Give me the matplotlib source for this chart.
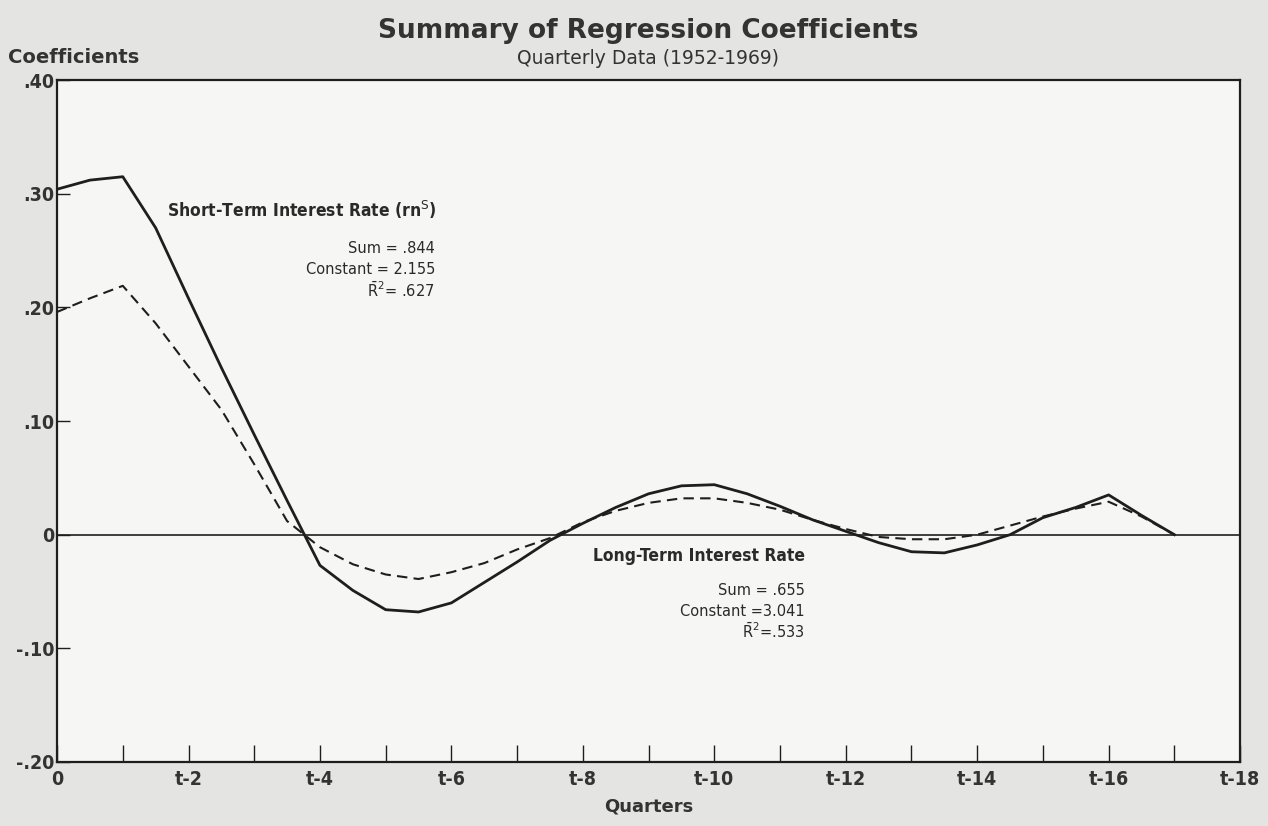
import matplotlib
matplotlib.use("Agg")
import matplotlib.pyplot as plt
from matplotlib import font_manager

# quarters back (0 = current quarter), read every half quarter
quarters = [0, 0.5, 1, 1.5, 2, 2.5, 3, 3.5, 4, 4.5, 5, 5.5, 6, 6.5, 7, 7.5, 8, 8.5,
            9, 9.5, 10, 10.5, 11, 11.5, 12, 12.5, 13, 13.5, 14, 14.5, 15, 15.5, 16, 16.5, 17]

# short-term interest rate coefficients (solid)
short_term = [0.304, 0.312, 0.315, 0.270, 0.208, 0.147, 0.088, 0.030, -0.027, -0.049,
              -0.066, -0.068, -0.060, -0.042, -0.024, -0.005, 0.010, 0.024, 0.036, 0.043,
              0.044, 0.036, 0.025, 0.013, 0.003, -0.007, -0.015, -0.016, -0.009, 0.000,
              0.015, 0.024, 0.035, 0.017, 0.000]

# long-term interest rate coefficients (dashed)
long_term = [0.196, 0.208, 0.219, 0.186, 0.148, 0.110, 0.062, 0.012, -0.011, -0.026,
             -0.035, -0.039, -0.033, -0.025, -0.013, -0.003, 0.011, 0.021, 0.028, 0.032,
             0.032, 0.028, 0.022, 0.013, 0.005, -0.002, -0.004, -0.004, 0.000, 0.008,
             0.016, 0.023, 0.029, 0.016, 0.000]

y_ticks = [0.40, 0.30, 0.20, 0.10, 0.0, -0.10, -0.20]
y_labels = [".40", ".30", ".20", ".10", "0", "-.10", "-.20"]
x_ticks = list(range(0, 19, 2))
x_labels = ["0"] + [f"t-{q}" for q in range(2, 19, 2)]

ink = "#1e1e1e"
text_col = "#333333"
note_col = "#2a2a2a"
paper = "#e4e4e2"

# pick a condensed face if one is installed
installed = {f.name for f in font_manager.fontManager.ttflist}
narrow = [n for n in ("Liberation Sans Narrow", "DejaVu Sans Condensed") if n in installed]
narrow = narrow + ["DejaVu Sans"]

fig = plt.figure(figsize=(12.68, 8.26), dpi=100, facecolor=paper)
ax = fig.add_axes([0.045, 0.0775, 0.933, 0.8255])
ax.set_facecolor("#f6f6f4")

ax.plot(quarters, short_term, color=ink, lw=2.0, solid_joinstyle="round")
ax.plot(quarters, long_term, color=ink, lw=1.5, dashes=(5, 3))
ax.axhline(0, color=ink, lw=1.2)

ax.set_xlim(0, 18)
ax.set_ylim(-0.20, 0.40)

ax.set_yticks(y_ticks)
ax.set_yticklabels(y_labels)
ax.set_xticks(x_ticks)
ax.set_xticklabels(x_labels)
ax.set_xticks(range(0, 19), minor=True)
ax.tick_params(axis="x", which="both", direction="in", length=12, width=1.0,
               color=ink, pad=6, labelsize=14, labelcolor=text_col)
ax.tick_params(axis="y", which="major", direction="in", length=9, width=1.0,
               color=ink, pad=2, labelsize=14, labelcolor=text_col)
for lbl in ax.get_xticklabels() + ax.get_yticklabels():
    lbl.set_fontweight("bold")
    lbl.set_family(narrow)
    lbl.set_fontstretch("condensed")

for sp in ax.spines.values():
    sp.set_linewidth(1.6)
    sp.set_color(ink)

fig.text(0.511, 0.962, "Summary of Regression Coefficients", ha="center", va="center",
         fontsize=19, fontweight="bold", color=text_col)
fig.text(0.511, 0.929, "Quarterly Data (1952-1969)", ha="center", va="center",
         fontsize=13.5, color=text_col)
fig.text(0.006, 0.930, "Coefficients", ha="left", va="center",
         fontsize=14, fontweight="bold", color=text_col)
ax.set_xlabel("Quarters", fontsize=13, fontweight="bold", color=text_col, labelpad=6)

# annotations
ax.text(1.68, 0.286, r"Short-Term Interest Rate (rn$^{\mathrm{S}}$)", ha="left", va="center",
        fontsize=12.5, fontweight="bold", family=narrow, fontstretch="condensed",
        color=note_col)
ax.text(5.75, 0.252, "Sum = .844", ha="right", va="center", fontsize=10.5, color=note_col)
ax.text(5.75, 0.233, "Constant = 2.155", ha="right", va="center", fontsize=10.5, color=note_col)
ax.text(5.75, 0.215, r"$\bar{\mathrm{R}}^{2}$= .627", ha="right", va="center", fontsize=10.5,
        color=note_col)

ax.text(8.15, -0.019, "Long-Term Interest Rate", ha="left", va="center",
        fontsize=12.5, fontweight="bold", family=narrow, fontstretch="condensed",
        color=note_col)
ax.text(11.38, -0.049, "Sum = .655", ha="right", va="center", fontsize=10.5, color=note_col)
ax.text(11.38, -0.068, "Constant =3.041", ha="right", va="center", fontsize=10.5, color=note_col)
ax.text(11.38, -0.085, r"$\bar{\mathrm{R}}^{2}$=.533", ha="right", va="center", fontsize=10.5,
        color=note_col)

fig.savefig("out.png", dpi=100, facecolor=paper)
